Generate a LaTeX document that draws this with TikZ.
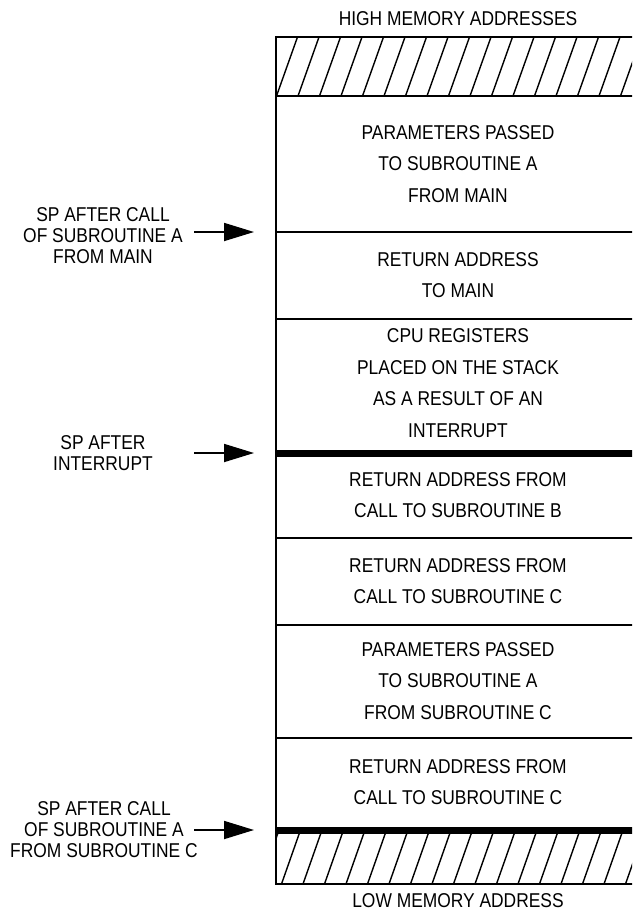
\documentclass[tikz,border=0pt]{standalone}
\usepackage{fontspec}
\setmainfont{Liberation Sans}[FakeStretch=0.87]
\usetikzlibrary{arrows.meta}
\begin{document}
\begin{tikzpicture}[x=1pt,y=-1pt,
  cell/.style={align=center, font=\fontsize{20}{31.7}\selectfont, inner sep=0pt},
  lbl/.style={align=center, font=\fontsize{20}{21}\selectfont, inner sep=0pt},
  ptr/.style={line width=1.8pt, -{Triangle[length=30pt,width=18pt]}},
  rule/.style={line width=1.5pt},
  sprule/.style={line width=7pt},
  hatch/.style={line width=1.4pt}]
\useasboundingbox (0,0) rectangle (632,913);
\clip (0,0) rectangle (632,913);

% hatched areas
\begin{scope}
  \clip (276,37) rectangle (645,96);
  \foreach \i in {-2,...,18} \draw[hatch] ({276+21.5*\i},37) -- ({276+21.5*\i-21},96);
\end{scope}
\begin{scope}
  \clip (276,830) rectangle (645,884);
  \foreach \i in {-2,...,18} \draw[hatch] ({279+21.5*\i},830) -- ({279+21.5*\i-19},884);
\end{scope}

% box outline and separators
\draw[rule] (645,37) -- (276,37) -- (276,884) -- (645,884);
\draw[line width=2pt] (276,96) -- (645,96);
\foreach \yy in {232,319,538,625,738} \draw[rule] (276,\yy) -- (645,\yy);
\draw[sprule] (276,453) -- (645,453);
\draw[sprule] (276,830) -- (645,830);

% titles
\node[cell] (hi) at (458,19) {HIGH MEMORY ADDRESSES};
\node[cell] (lo) at (458,901) {LOW MEMORY ADDRESS};

% cells
\node[cell] (c1) at (458,164) {PARAMETERS PASSED\\TO SUBROUTINE A\\FROM MAIN};
\node[cell] (c2) at (458,275) {RETURN ADDRESS\\TO MAIN};
\node[cell] (c3) at (458,383) {CPU REGISTERS\\PLACED ON THE STACK\\AS A RESULT OF AN\\INTERRUPT};
\node[cell] (c4) at (458,495) {RETURN ADDRESS FROM\\CALL TO SUBROUTINE B};
\node[cell] (c5) at (458,581) {RETURN ADDRESS FROM\\CALL TO SUBROUTINE C};
\node[cell] (c6) at (458,681) {PARAMETERS PASSED\\TO SUBROUTINE A\\FROM SUBROUTINE C};
\node[cell] (c7) at (458,782) {RETURN ADDRESS FROM\\CALL TO SUBROUTINE C};

% pointer labels
\node[lbl] (l1) at (103,236) {SP AFTER CALL\\OF SUBROUTINE A\\FROM MAIN};
\node[lbl] (l2) at (103,453) {SP AFTER\\INTERRUPT};
\node[lbl] (l3) at (104,830) {SP AFTER CALL\\OF SUBROUTINE A\\FROM SUBROUTINE C};

\coordinate (s1) at (194,232); \coordinate (t1) at (254,232);
\coordinate (s2) at (194,453); \coordinate (t2) at (254,453);
\coordinate (s3) at (194,830); \coordinate (t3) at (254,830);
\draw[ptr] (s1) -- (t1);
\draw[ptr] (s2) -- (t2);
\draw[ptr] (s3) -- (t3);
\end{tikzpicture}
\end{document}
